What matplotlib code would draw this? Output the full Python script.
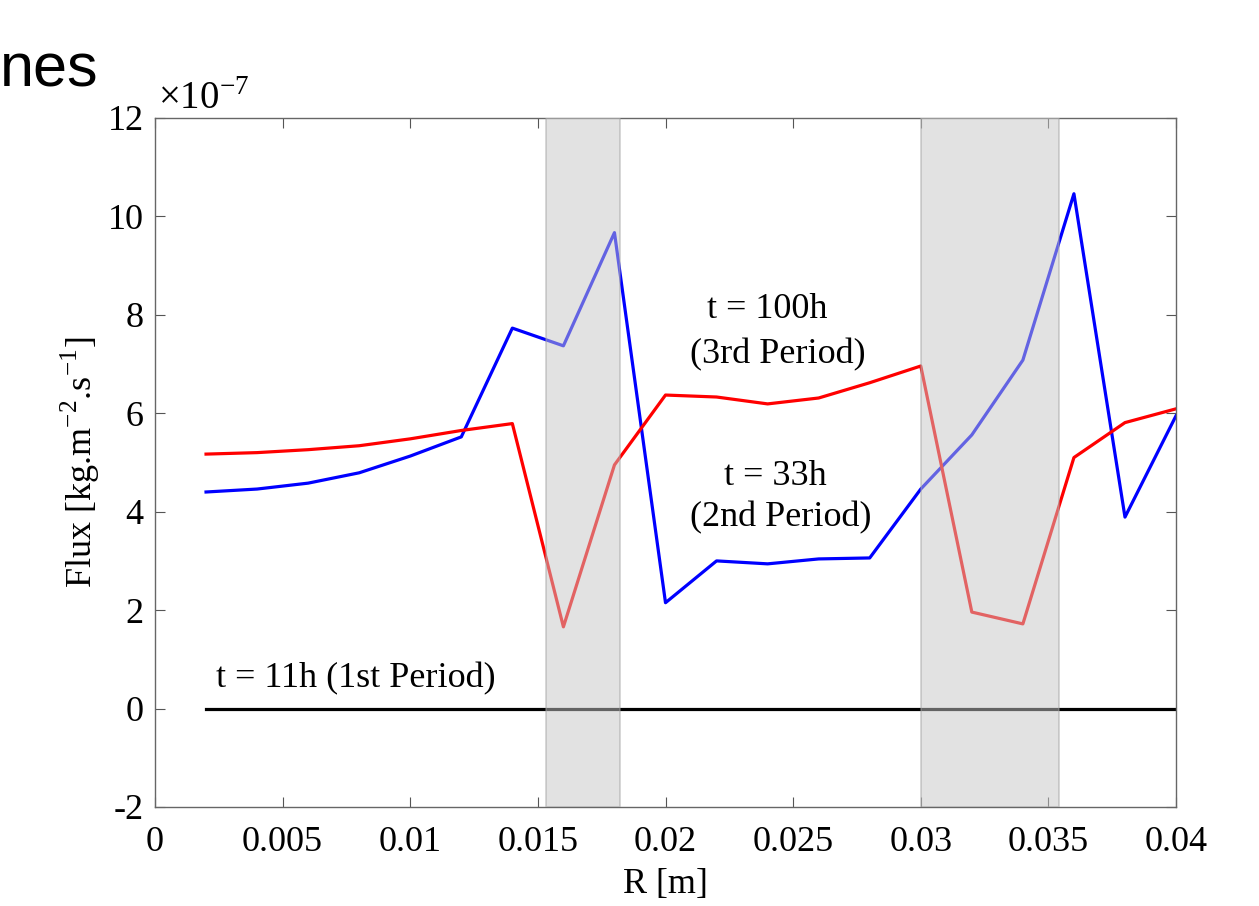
import numpy as np
import matplotlib
matplotlib.use('Agg')
import matplotlib.pyplot as plt

# radial positions [m]
r = [0.002, 0.004, 0.006, 0.008, 0.010, 0.012, 0.014, 0.016, 0.018, 0.020,
     0.022, 0.024, 0.026, 0.028, 0.030, 0.032, 0.034, 0.036, 0.038, 0.040]

# flux values, in units of 1e-7 kg.m^-2.s^-1
flux_11h = [0.0] * 20
flux_33h = [4.40, 4.46, 4.58, 4.79, 5.13, 5.52, 7.73, 7.37, 9.67, 2.15,
            3.00, 2.94, 3.04, 3.06, 4.46, 5.56, 7.08, 10.46, 3.89, 5.95]
flux_100h = [5.17, 5.20, 5.26, 5.34, 5.48, 5.65, 5.79, 1.66, 4.95, 6.37,
             6.33, 6.19, 6.31, 6.62, 6.96, 1.96, 1.72, 5.10, 5.81, 6.09]

# shaded zones along R
zones = [(0.0153, 0.0182), (0.0300, 0.0354)]

xticks = [0, 0.005, 0.01, 0.015, 0.02, 0.025, 0.03, 0.035, 0.04]
xticklabels = ['0', '0.005', '0.01', '0.015', '0.02', '0.025', '0.03', '0.035', '0.04']
yticks = [-2, 0, 2, 4, 6, 8, 10, 12]

plt.rcParams['font.family'] = ['Liberation Serif', 'DejaVu Serif']
plt.rcParams['mathtext.fontset'] = 'custom'
plt.rcParams['mathtext.rm'] = 'Liberation Serif'
plt.rcParams['axes.unicode_minus'] = False

fs = 26

fig = plt.figure(figsize=(12.59, 9.06), dpi=100)
ax = fig.add_axes([0.1231, 0.1093, 0.8110, 0.7605])

ax.plot(r, flux_11h, color='black', lw=2.3)
ax.plot(r, flux_33h, color='#0000ff', lw=2.3)
ax.plot(r, flux_100h, color='#ff0000', lw=2.3)

for a, b in zones:
    ax.axvspan(a, b, facecolor='#c6c6c6', edgecolor='#a0a0a0', lw=1.2,
               alpha=0.5, zorder=5)

ax.set_xlim(0, 0.04)
ax.set_ylim(-2, 12)
ax.set_xticks(xticks)
ax.set_xticklabels(xticklabels)
ax.set_yticks(yticks)
ax.tick_params(direction='in', length=7, width=0.8, color='#555555',
               labelsize=fs, top=True, right=True)
ax.tick_params(axis='x', pad=14)
ax.tick_params(axis='y', pad=8)
for s in ax.spines.values():
    s.set_color('#666666')
    s.set_linewidth(1.0)

ax.set_xlabel('R [m]', fontsize=fs, labelpad=6)
ax.set_ylabel('Flux [kg.m$^{-2}$.s$^{-1}$]', fontsize=fs, labelpad=4)

ax.text(0.003, 1.0, r'$\times$10$^{-7}$', transform=ax.transAxes,
        fontsize=28, ha='left', va='bottom')

ax.text(0.0240, 8.10, 't = 100h', fontsize=fs, ha='center', va='center')
ax.text(0.0244, 7.19, '(3rd Period)', fontsize=fs, ha='center', va='center')
ax.text(0.0243, 4.71, 't = 33h', fontsize=fs, ha='center', va='center')
ax.text(0.0245, 3.87, '(2nd Period)', fontsize=fs, ha='center', va='center')
ax.text(0.0024, 0.6, 't = 11h (1st Period)', fontsize=fs, ha='left', va='center')

# cropped slide title fragment
fig.text(0.0, 0.905, 'nes', fontsize=44, family=['Liberation Sans', 'DejaVu Sans'],
         ha='left', va='baseline')

fig.savefig('out.png', dpi=100)
